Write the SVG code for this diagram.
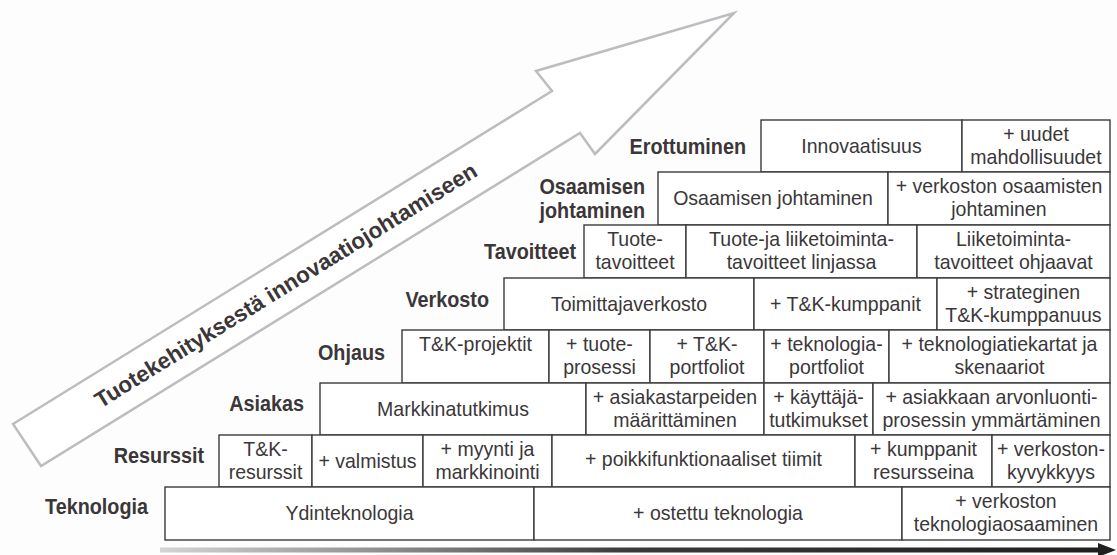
<svg xmlns="http://www.w3.org/2000/svg" width="1117" height="555" viewBox="0 0 1117 555">
<defs>
<style>
.box{fill:#fff;stroke:#3a3a3a;stroke-width:1.4}
.lbl{font-family:"Liberation Sans",Arial,sans-serif;font-weight:bold;font-size:22px;fill:#3b3638;text-anchor:end;transform-box:fill-box;transform-origin:100% 50%;transform:scaleX(0.9)}
.t{font-family:"Liberation Sans",Arial,sans-serif;font-size:21px;fill:#3b3739;text-anchor:middle;transform-box:fill-box;transform-origin:50% 50%;transform:scaleX(0.93)}
.big{fill:#fff;stroke:#bcbcc1;stroke-width:2.5;stroke-linejoin:miter}
.bigt{font-family:"Liberation Sans",Arial,sans-serif;font-weight:bold;font-size:22.5px;fill:#3b3638;text-anchor:middle}
</style>
<linearGradient id="axis" gradientUnits="userSpaceOnUse" x1="160" y1="0" x2="1100" y2="0">
<stop offset="0" stop-color="#d4d4d4"/>
<stop offset="0.25" stop-color="#8a8a8a"/>
<stop offset="0.5" stop-color="#3a3a3a"/>
<stop offset="1" stop-color="#1f1f1f"/>
</linearGradient>
</defs>
<rect x="0" y="0" width="1117" height="555" fill="#fdfdfd"/>

<g id="connectors">
<g id="big-arrow">
<polygon class="big" points="13,424 552,91 536,71 734,13 595,154 580,133 41,466"/>
<text class="bigt" transform="translate(13,424) rotate(-31.7)" x="305" y="33">Tuotekehityksestä innovaatiojohtamiseen</text>
</g>
<g id="axis-arrow">
<line x1="160" y1="550" x2="1100" y2="550" stroke="url(#axis)" stroke-width="5"/>
<polygon points="1098,543 1116,550 1098,557" fill="#1f1f1f"/>
</g>
</g>

<g id="erottuminen">
<text class="lbl" x="746" y="154">Erottuminen</text>
<rect class="box" x="761" y="120" width="201" height="52"/>
<rect class="box" x="962" y="120" width="148" height="52"/>
<text class="t" x="861.5" y="153">Innovaatisuus</text>
<text class="t" x="1036" y="141">+ uudet</text>
<text class="t" x="1036" y="164">mahdollisuudet</text>
</g>

<g id="osaamisen">
<text class="lbl" x="645" y="194">Osaamisen</text>
<text class="lbl" x="645" y="218">johtaminen</text>
<rect class="box" x="658" y="172" width="230" height="53"/>
<rect class="box" x="888" y="172" width="222" height="53"/>
<text class="t" x="773" y="205.5">Osaamisen johtaminen</text>
<text class="t" x="999" y="193.5">+ verkoston osaamisten</text>
<text class="t" x="999" y="216.5">johtaminen</text>
</g>

<g id="tavoitteet">
<text class="lbl" x="576" y="259">Tavoitteet</text>
<rect class="box" x="584" y="225" width="102" height="53"/>
<rect class="box" x="686" y="225" width="231" height="53"/>
<rect class="box" x="917" y="225" width="193" height="53"/>
<text class="t" x="635" y="246.5">Tuote-</text>
<text class="t" x="635" y="269.5">tavoitteet</text>
<text class="t" x="801.5" y="246.5">Tuote-ja liiketoiminta-</text>
<text class="t" x="801.5" y="269.5">tavoitteet linjassa</text>
<text class="t" x="1013.5" y="246.5">Liiketoiminta-</text>
<text class="t" x="1013.5" y="269.5">tavoitteet ohjaavat</text>
</g>

<g id="verkosto">
<text class="lbl" x="489" y="307">Verkosto</text>
<rect class="box" x="504" y="278" width="250" height="52"/>
<rect class="box" x="754" y="278" width="183" height="52"/>
<rect class="box" x="937" y="278" width="173" height="52"/>
<text class="t" x="629" y="311">Toimittajaverkosto</text>
<text class="t" x="845.5" y="311">+ T&amp;K-kumppanit</text>
<text class="t" x="1023.5" y="299">+ strateginen</text>
<text class="t" x="1023.5" y="322">T&amp;K-kumppanuus</text>
</g>

<g id="ohjaus">
<text class="lbl" x="385" y="360">Ohjaus</text>
<rect class="box" x="402" y="330" width="147" height="53"/>
<rect class="box" x="549" y="330" width="101" height="53"/>
<rect class="box" x="650" y="330" width="114" height="53"/>
<rect class="box" x="764" y="330" width="125" height="53"/>
<rect class="box" x="889" y="330" width="221" height="53"/>
<text class="t" x="475.5" y="351.5">T&amp;K-projektit</text>
<text class="t" x="599.5" y="351.5">+ tuote-</text>
<text class="t" x="599.5" y="374.5">prosessi</text>
<text class="t" x="707" y="351.5">+ T&amp;K-</text>
<text class="t" x="707" y="374.5">portfoliot</text>
<text class="t" x="826.5" y="351.5">+ teknologia-</text>
<text class="t" x="826.5" y="374.5">portfoliot</text>
<text class="t" x="999.5" y="351.5">+ teknologiatiekartat ja</text>
<text class="t" x="999.5" y="374.5">skenaariot</text>
</g>

<g id="asiakas">
<text class="lbl" x="304" y="411">Asiakas</text>
<rect class="box" x="320" y="383" width="266" height="52"/>
<rect class="box" x="586" y="383" width="178" height="52"/>
<rect class="box" x="764" y="383" width="109" height="52"/>
<rect class="box" x="873" y="383" width="237" height="52"/>
<text class="t" x="453" y="416">Markkinatutkimus</text>
<text class="t" x="675" y="404">+ asiakastarpeiden</text>
<text class="t" x="675" y="427">määrittäminen</text>
<text class="t" x="818.5" y="404">+ käyttäjä-</text>
<text class="t" x="818.5" y="427">tutkimukset</text>
<text class="t" x="991.5" y="404">+ asiakkaan arvonluonti-</text>
<text class="t" x="991.5" y="427">prosessin ymmärtäminen</text>
</g>

<g id="resurssit">
<text class="lbl" x="204" y="463">Resurssit</text>
<rect class="box" x="219" y="435" width="93" height="52"/>
<rect class="box" x="312" y="435" width="111" height="52"/>
<rect class="box" x="423" y="435" width="129" height="52"/>
<rect class="box" x="552" y="435" width="303" height="52"/>
<rect class="box" x="855" y="435" width="137" height="52"/>
<rect class="box" x="992" y="435" width="118" height="52"/>
<text class="t" x="265.5" y="456">T&amp;K-</text>
<text class="t" x="265.5" y="479">resurssit</text>
<text class="t" x="367.5" y="468">+ valmistus</text>
<text class="t" x="487.5" y="456">+ myynti ja</text>
<text class="t" x="487.5" y="479">markkinointi</text>
<text class="t" x="703.5" y="466">+ poikkifunktionaaliset tiimit</text>
<text class="t" x="923.5" y="456">+ kumppanit</text>
<text class="t" x="923.5" y="479">resursseina</text>
<text class="t" x="1051" y="456">+ verkoston-</text>
<text class="t" x="1051" y="479">kyvykkyys</text>
</g>

<g id="teknologia">
<text class="lbl" x="148" y="514">Teknologia</text>
<rect class="box" x="165" y="487" width="369" height="53"/>
<rect class="box" x="534" y="487" width="368" height="53"/>
<rect class="box" x="902" y="487" width="208" height="53"/>
<text class="t" x="349.5" y="520">Ydinteknologia</text>
<text class="t" x="718" y="520">+ ostettu teknologia</text>
<text class="t" x="1006" y="508.5">+ verkoston</text>
<text class="t" x="1006" y="531.5">teknologiaosaaminen</text>
</g>
</svg>
